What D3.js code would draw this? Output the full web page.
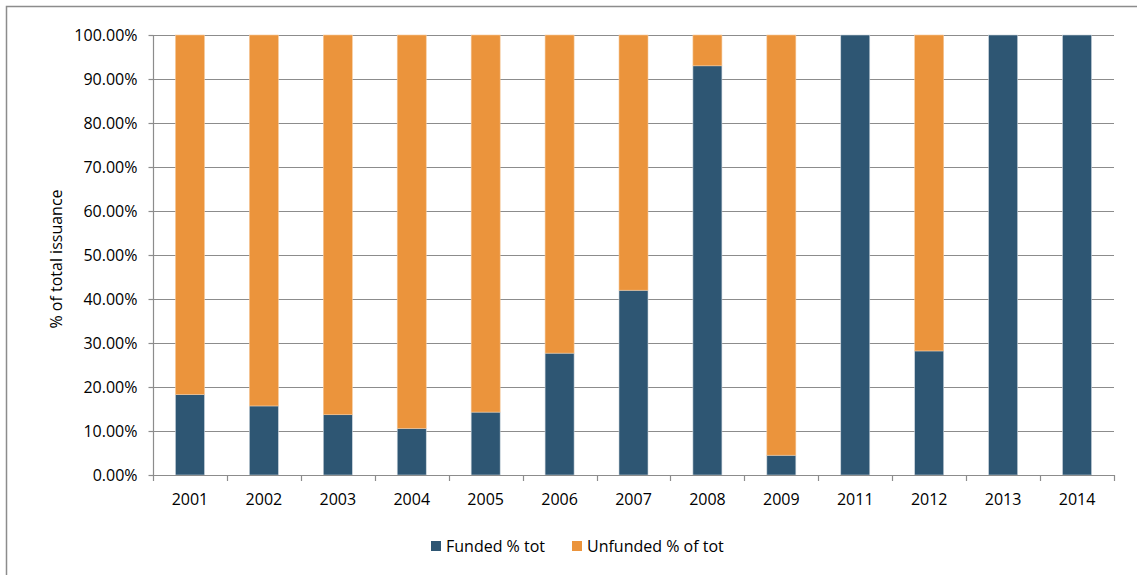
<!DOCTYPE html>
<html><head><meta charset="utf-8">
<script src="https://cdn.jsdelivr.net/npm/d3@7"></script>
<style>body{margin:0;background:#fff}svg{display:block;font-family:"Open Sans","Liberation Sans",sans-serif}</style>
</head><body><svg id="c" width="1137" height="575"></svg>
<script>
const years = ["2001","2002","2003","2004","2005","2006","2007","2008","2009","2011","2012","2013","2014"];
const funded = [18.3, 15.7, 13.7, 10.6, 14.3, 27.7, 42.0, 93.0, 4.5, 100, 28.2, 100, 100];
const unfunded = funded.map(v => 100 - v);
const yTicks = [0,10,20,30,40,50,60,70,80,90,100];
const seriesNames = ["Funded % tot","Unfunded % of tot"];
const colors = ["#2E5673","#EB943C"];
const FS = 16;

const svg = d3.select("#c");
svg.append("rect").attr("x",6.5).attr("y",6.5).attr("width",1140).attr("height",580)
  .attr("fill","none").attr("stroke","#8c8c8c").attr("stroke-width",1.5);

const L=153, R=1114, T=35, B=475;
const xb = d3.scaleBand().domain(years).range([L,R]);
const y = d3.scaleLinear().domain([0,100]).range([B,T]);

// gridlines
svg.append("g").selectAll("line").data(yTicks).join("line")
  .attr("x1",L).attr("x2",R).attr("y1",d=>y(d)+0.5).attr("y2",d=>y(d)+0.5)
  .attr("stroke","#8c8c8c").attr("stroke-width",1.2);

// bars
const data = years.map((yr,i)=>({yr, f:funded[i], u:unfunded[i]}));
const bw = 29;
const g = svg.append("g");
data.forEach(d=>{
  const cx = xb(d.yr)+xb.bandwidth()/2;
  g.append("rect").attr("x",cx-bw/2).attr("width",bw).attr("y",y(d.f)).attr("height",y(0)-y(d.f))
    .attr("fill",colors[0]).attr("stroke","#c9d3db").attr("stroke-width",0.6);
  if(d.u>0) g.append("rect").attr("x",cx-bw/2).attr("width",bw).attr("y",y(100)).attr("height",y(d.f)-y(100))
    .attr("fill",colors[1]).attr("stroke","#f5c89a").attr("stroke-width",0.6);
});

// y axis
const yAxis = svg.append("g").attr("transform",`translate(${L+0.5},0)`)
  .call(d3.axisLeft(y).tickValues(yTicks).tickSize(5).tickPadding(11).tickFormat(d=>d.toFixed(2)+"%"));
yAxis.attr("font-family",null).attr("font-size",FS);
yAxis.select(".domain").attr("stroke","#8c8c8c").attr("stroke-width",1.2).attr("d",`M0,${T}V${B}`);
yAxis.selectAll(".tick line").attr("stroke","#8c8c8c").attr("stroke-width",1.2);
yAxis.selectAll(".tick text").attr("fill","#000");

// x axis
const xAxis = svg.append("g").attr("transform",`translate(0,${B+0.5})`)
  .call(d3.axisBottom(xb).tickSize(0).tickPadding(18));
xAxis.attr("font-family",null).attr("font-size",FS);
xAxis.select(".domain").attr("stroke","#8c8c8c").attr("stroke-width",1.2).attr("d",`M${L},0H${R}`);
xAxis.selectAll(".tick text").attr("fill","#000");
svg.append("g").selectAll("line").data(years.concat(["end"])).join("line")
  .attr("x1",(d,i)=>Math.round(L+i*xb.step())+0.5).attr("x2",(d,i)=>Math.round(L+i*xb.step())+0.5)
  .attr("y1",B).attr("y2",B+6).attr("stroke","#8c8c8c").attr("stroke-width",1.2);

// y title
svg.append("text").attr("transform","translate(62,259) rotate(-90)").attr("text-anchor","middle")
  .attr("font-size",FS).text("% of total issuance");

// legend
const lg = svg.append("g");
const lx=[431,572];
seriesNames.forEach((n,i)=>{
  lg.append("rect").attr("x",lx[i]).attr("y",541).attr("width",10).attr("height",10).attr("fill",colors[i]);
  lg.append("text").attr("x",lx[i]+15).attr("y",552).attr("font-size",FS).text(n);
});
</script></body></html>
